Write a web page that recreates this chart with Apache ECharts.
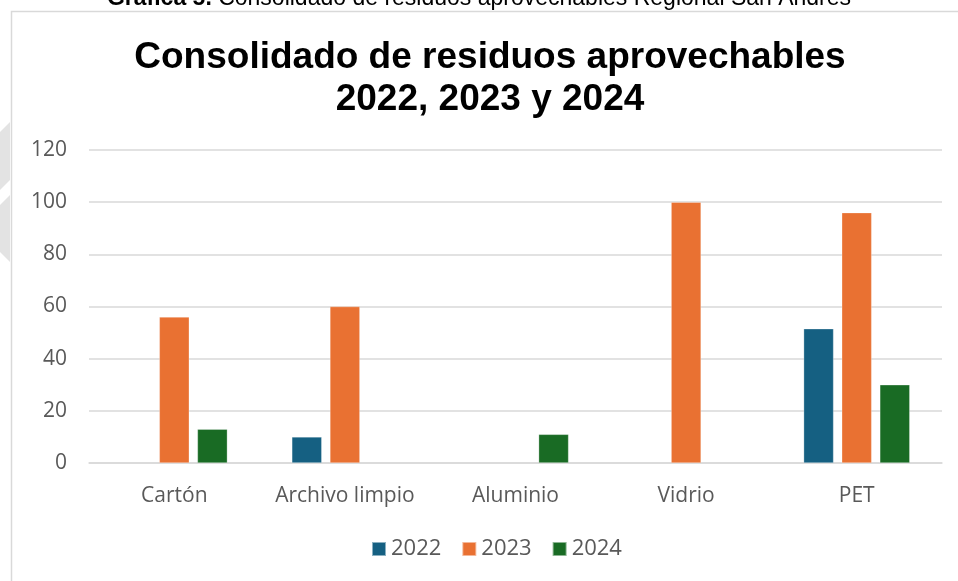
<!DOCTYPE html>
<html>
<head>
<meta charset="utf-8">
<script src="https://cdn.jsdelivr.net/npm/echarts@6/dist/echarts.min.js"></script>
<style>
  html, body { margin: 0; padding: 0; background: #fff; }
  #chart { width: 958px; height: 581px; }
</style>
</head>
<body>
<div id="chart"></div>
<script>
// Material categories and yearly totals
const categories = ['Cartón', 'Archivo limpio', 'Aluminio', 'Vidrio', 'PET'];
const values2022 = [null, 10, null, null, 51.5];
const values2023 = [56, 60, null, 100, 96];
const values2024 = [13, null, 11, null, 30];
const seriesNames = ['2022', '2023', '2024'];
const yTicks = { min: 0, max: 120, interval: 20 };

const colors = ['#156082', '#E97132', '#196B24'];
const labelColor = '#595959';
const uiFont = '"Open Sans", "Noto Sans", sans-serif';
const captionFont = '"Liberation Sans Narrow", "Liberation Sans", Arial, sans-serif';

const chart = echarts.init(document.getElementById('chart'), null, { renderer: 'canvas' });

function barSeries(name, data, color) {
  return {
    name: name,
    type: 'bar',
    data: data,
    barWidth: 30,
    barGap: '27%',
    itemStyle: { color: color, borderColor: 'rgba(255,255,255,0.5)', borderWidth: 0.6 }
  };
}

chart.setOption({
  backgroundColor: '#ffffff',
  animation: false,
  graphic: [
    // chart frame
    { type: 'rect', shape: { x: 11.5, y: 11.5, width: 960, height: 600 },
      style: { fill: 'none', stroke: '#d9d9d9', lineWidth: 1.5 }, z: -1 },
    // faint page marks along the left edge
    { type: 'polygon', shape: { points: [[0, 132], [10, 122], [10, 180], [0, 190]] },
      style: { fill: '#e3e3e3' }, z: -2 },
    { type: 'polygon', shape: { points: [[0, 205], [10, 195], [10, 262], [0, 252]] },
      style: { fill: '#e3e3e3' }, z: -2 },
    // document caption above the chart
    { type: 'text', x: 479, y: 10,
      style: {
        text: '{b|Gráfica 5.} Consolidado de residuos aprovechables Regional San Andrés',
        font: '23px ' + captionFont,
        fill: '#000',
        align: 'center',
        verticalAlign: 'bottom',
        rich: { b: { fontWeight: 'bold', fontSize: 23, fontFamily: captionFont, fill: '#000' } }
      } },
    // chart title
    { type: 'text', x: 490, y: 37,
      style: {
        text: 'Consolidado de residuos aprovechables\n2022, 2023 y 2024',
        font: 'bold 37px "Liberation Sans", Arial, sans-serif',
        lineHeight: 42,
        fill: '#000',
        align: 'center',
        verticalAlign: 'top'
      } }
  ],
  legend: {
    data: seriesNames,
    bottom: 16,
    left: 366,
    itemWidth: 14,
    itemHeight: 14,
    itemGap: 20,
    icon: 'rect',
    textStyle: { color: labelColor, fontSize: 22, fontFamily: uiFont }
  },
  grid: { left: 89, right: 16, top: 150, bottom: 118 },
  xAxis: {
    type: 'category',
    data: categories,
    axisLine: { lineStyle: { color: '#d9d9d9', width: 1.5 } },
    axisTick: { show: false },
    axisLabel: { color: labelColor, fontSize: 21, fontFamily: uiFont, margin: 23, interval: 0 }
  },
  yAxis: {
    type: 'value',
    min: yTicks.min,
    max: yTicks.max,
    interval: yTicks.interval,
    axisLine: { show: false },
    axisTick: { show: false },
    axisLabel: { color: labelColor, fontSize: 21, fontFamily: uiFont, margin: 22 },
    splitLine: { lineStyle: { color: '#d9d9d9', width: 1.5 } }
  },
  series: [
    barSeries(seriesNames[0], values2022, colors[0]),
    barSeries(seriesNames[1], values2023, colors[1]),
    barSeries(seriesNames[2], values2024, colors[2])
  ]
});
</script>
</body>
</html>
